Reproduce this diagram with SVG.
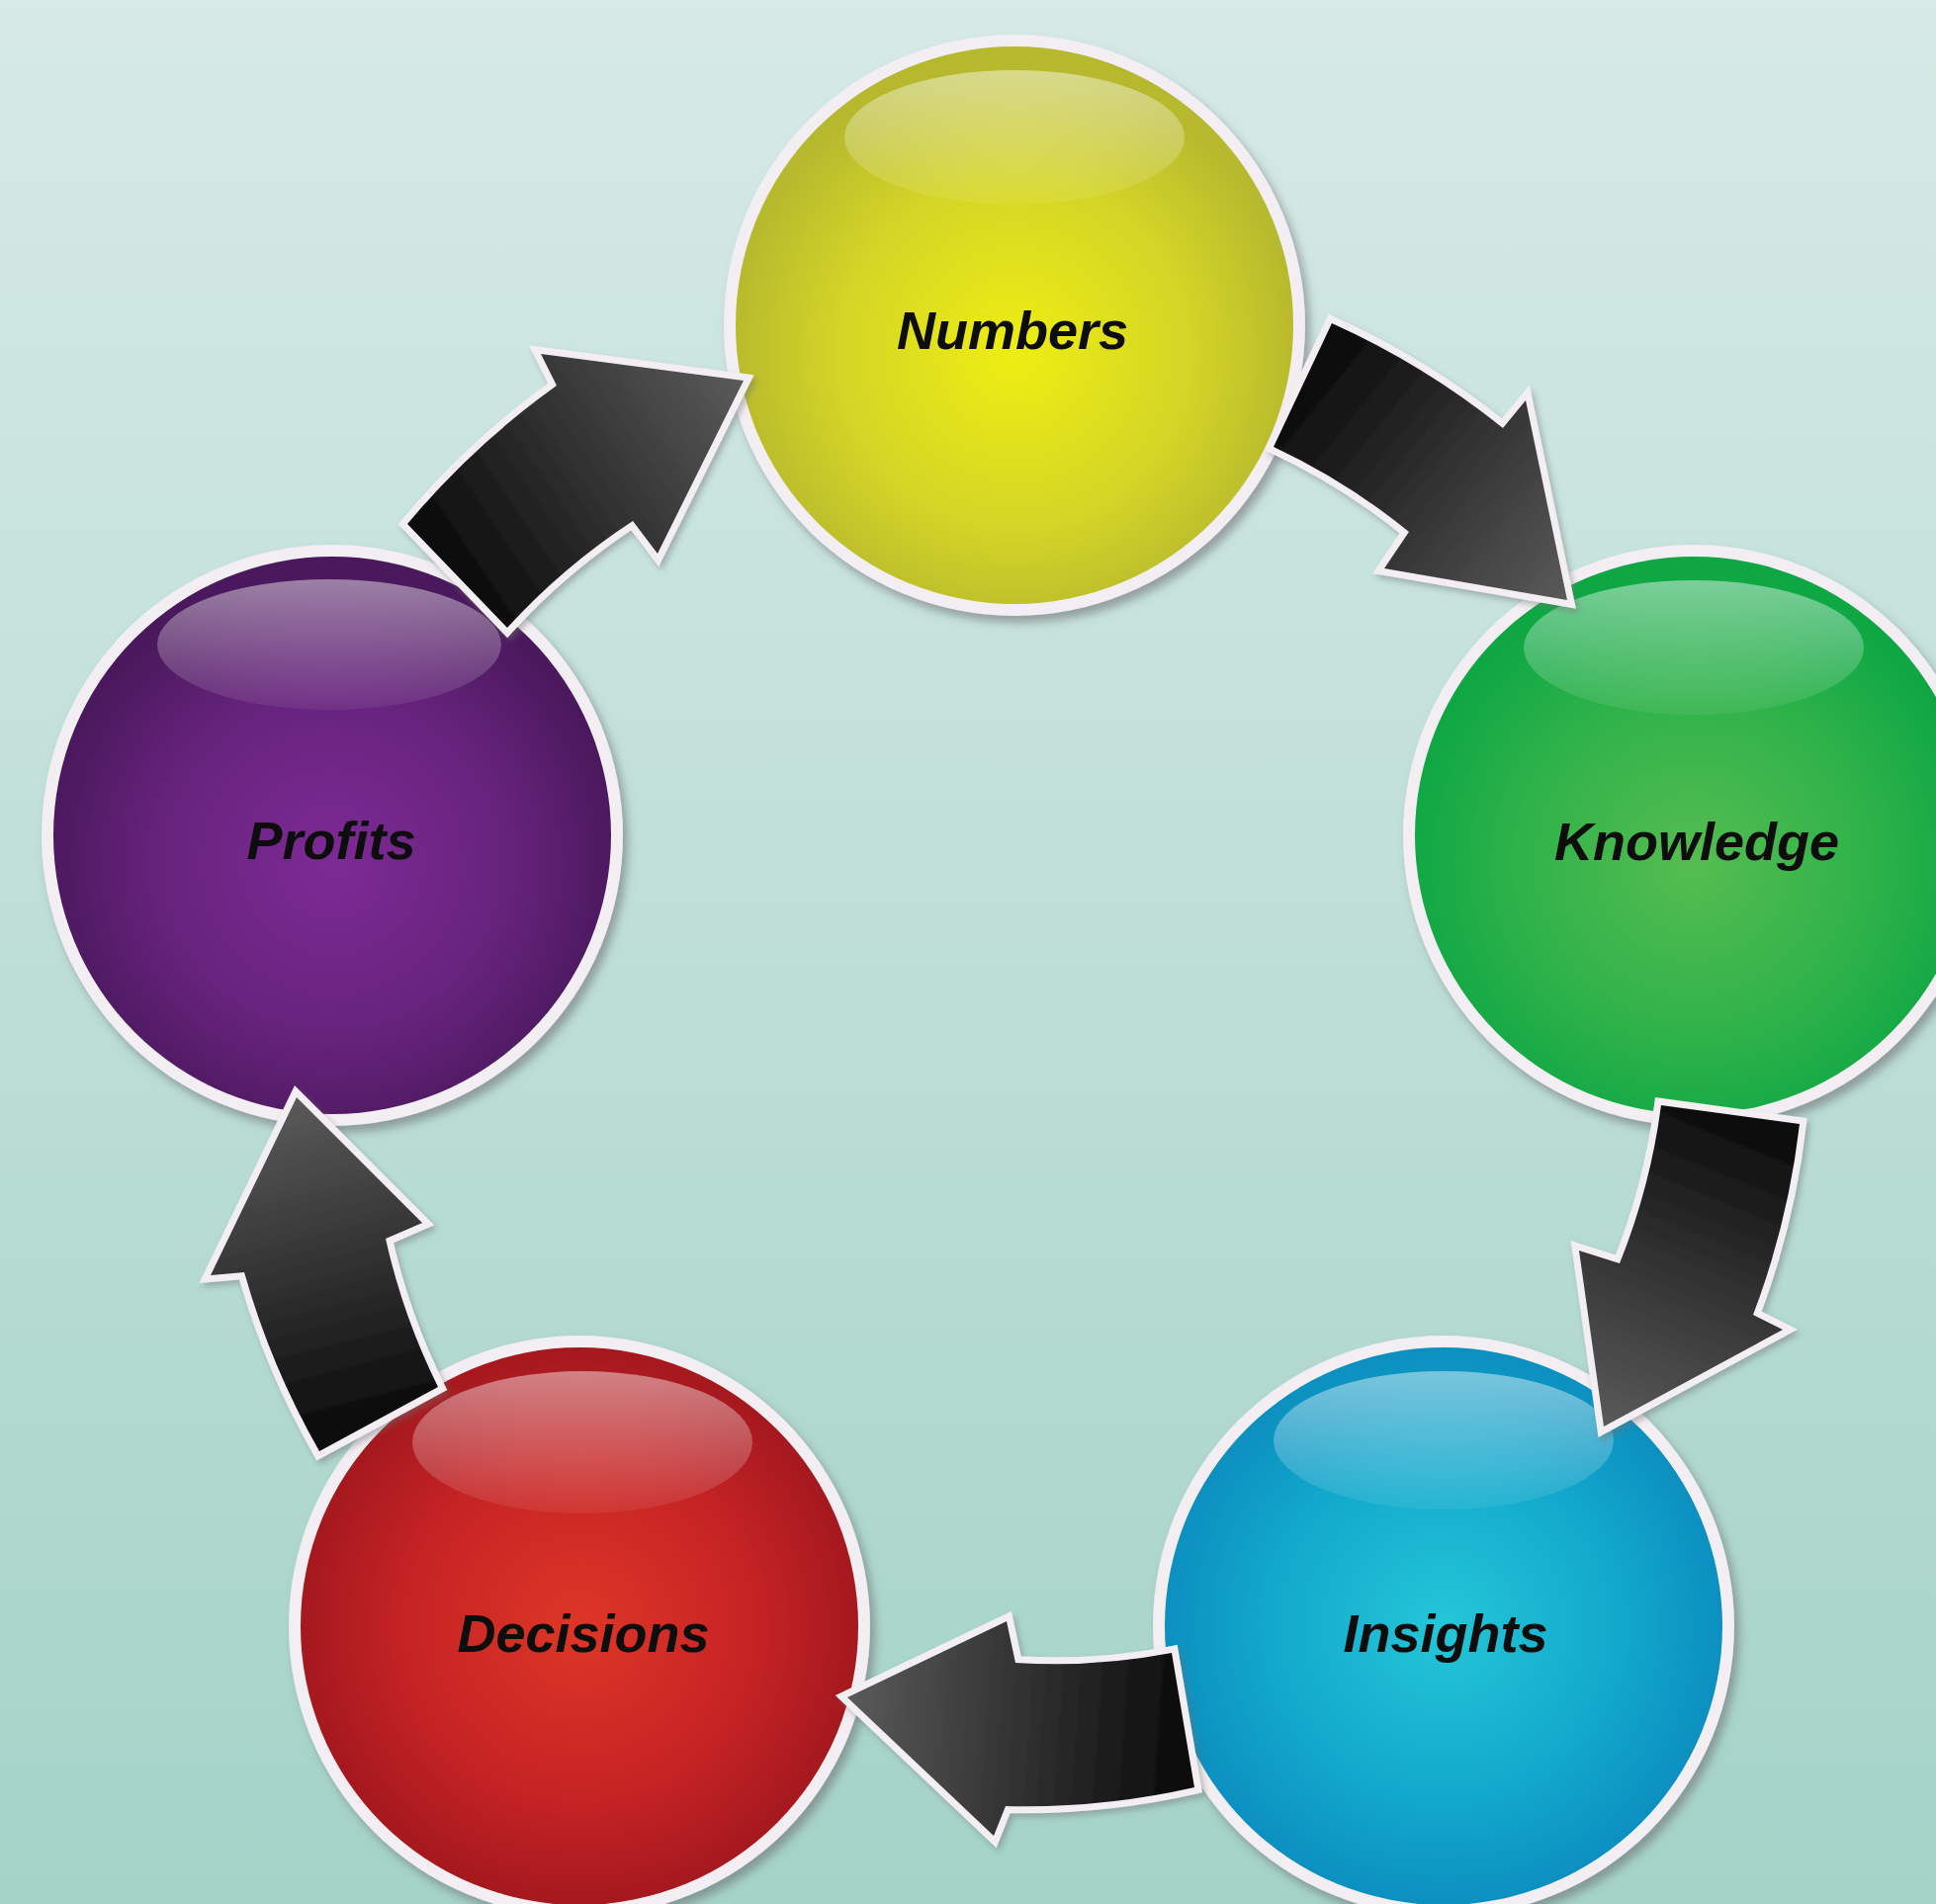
<svg xmlns="http://www.w3.org/2000/svg" width="1958" height="1926" viewBox="0 0 1958 1926">
<defs>
<style>
.rim{fill:#f2eef2;filter:url(#sh)}
.hl{fill:url(#hlg)}
.lbl{font-family:"Liberation Sans",Arial,sans-serif;font-weight:bold;font-style:italic;font-size:54px;fill:#0d0d0d;text-anchor:middle}
.arr{stroke:#f2eef2;stroke-width:14;stroke-linejoin:miter;paint-order:stroke;filter:url(#sh2)}
</style>
<linearGradient id="bg" x1="0" y1="0" x2="0" y2="1">
<stop offset="0" stop-color="#d7eae5"/>
<stop offset="1" stop-color="#a4d3c8"/>
</linearGradient>
<filter id="sh" x="-20%" y="-20%" width="140%" height="140%">
<feDropShadow dx="5" dy="7" stdDeviation="5" flood-color="#6a6a6a" flood-opacity="0.55"/>
</filter>
<filter id="sh2" x="-20%" y="-20%" width="140%" height="140%">
<feDropShadow dx="3" dy="4" stdDeviation="3" flood-color="#707070" flood-opacity="0.45"/>
</filter>
<linearGradient id="hlg" x1="0" y1="0" x2="0" y2="1">
<stop offset="0" stop-color="#ffffff" stop-opacity="0.45"/>
<stop offset="1" stop-color="#ffffff" stop-opacity="0.06"/>
</linearGradient>
<radialGradient id="gY" cx="0.5" cy="0.55" r="0.52">
<stop offset="0" stop-color="#eeee12"/>
<stop offset="0.6" stop-color="#d4d526"/>
<stop offset="1" stop-color="#b6b82e"/>
</radialGradient>
<radialGradient id="gG" cx="0.5" cy="0.55" r="0.52">
<stop offset="0" stop-color="#55bd50"/>
<stop offset="0.6" stop-color="#2fb24a"/>
<stop offset="1" stop-color="#0ea744"/>
</radialGradient>
<radialGradient id="gP" cx="0.5" cy="0.55" r="0.52">
<stop offset="0" stop-color="#7d2a95"/>
<stop offset="0.6" stop-color="#66237c"/>
<stop offset="1" stop-color="#4a185c"/>
</radialGradient>
<radialGradient id="gR" cx="0.5" cy="0.5" r="0.52">
<stop offset="0" stop-color="#de3627"/>
<stop offset="0.6" stop-color="#c52324"/>
<stop offset="1" stop-color="#a1171e"/>
</radialGradient>
<radialGradient id="gB" cx="0.5" cy="0.5" r="0.52">
<stop offset="0" stop-color="#25c6d8"/>
<stop offset="0.6" stop-color="#12a8cc"/>
<stop offset="1" stop-color="#0b8dbe"/>
</radialGradient>
<linearGradient id="a1" gradientUnits="userSpaceOnUse" x1="462" y1="582" x2="752" y2="385">
<stop offset="0" stop-color="#0c0c0c"/><stop offset="1" stop-color="#5a5a5a"/>
</linearGradient>
<linearGradient id="a2" gradientUnits="userSpaceOnUse" x1="1317" y1="390" x2="1585" y2="607">
<stop offset="0" stop-color="#0c0c0c"/><stop offset="1" stop-color="#5a5a5a"/>
</linearGradient>
<linearGradient id="a3" gradientUnits="userSpaceOnUse" x1="1750" y1="1128" x2="1622" y2="1443">
<stop offset="0" stop-color="#0c0c0c"/><stop offset="1" stop-color="#5a5a5a"/>
</linearGradient>
<linearGradient id="a4" gradientUnits="userSpaceOnUse" x1="1196" y1="1740" x2="857" y2="1717">
<stop offset="0" stop-color="#0c0c0c"/><stop offset="1" stop-color="#5a5a5a"/>
</linearGradient>
<linearGradient id="a5" gradientUnits="userSpaceOnUse" x1="383" y1="1435" x2="300" y2="1110">
<stop offset="0" stop-color="#0c0c0c"/><stop offset="1" stop-color="#5a5a5a"/>
</linearGradient>
</defs>
<rect width="1958" height="1926" fill="url(#bg)"/>

<g id="node-numbers">
<circle class="rim" cx="1026" cy="329" r="294"/>
<circle cx="1026" cy="329" r="282" fill="url(#gY)"/>
<ellipse class="hl" cx="1026" cy="139" rx="172" ry="68"/>
<text class="lbl" x="1024" y="353">Numbers</text>
</g>
<g id="node-knowledge">
<circle class="rim" cx="1713" cy="845" r="294"/>
<circle cx="1713" cy="845" r="282" fill="url(#gG)"/>
<ellipse class="hl" cx="1713" cy="655" rx="172" ry="68"/>
<text class="lbl" x="1716" y="870">Knowledge</text>
</g>
<g id="node-insights">
<circle class="rim" cx="1460" cy="1645" r="294"/>
<circle cx="1460" cy="1645" r="282" fill="url(#gB)"/>
<ellipse class="hl" cx="1460" cy="1457" rx="172" ry="70"/>
<text class="lbl" x="1462" y="1671">Insights</text>
</g>
<g id="node-decisions">
<circle class="rim" cx="586" cy="1645" r="294"/>
<circle cx="586" cy="1645" r="282" fill="url(#gR)"/>
<ellipse class="hl" cx="589" cy="1459" rx="172" ry="72"/>
<text class="lbl" x="590" y="1671">Decisions</text>
</g>
<g id="node-profits">
<circle class="rim" cx="336" cy="845" r="294"/>
<circle cx="336" cy="845" r="282" fill="url(#gP)"/>
<ellipse class="hl" cx="333" cy="652" rx="174" ry="66"/>
<text class="lbl" x="335" y="869">Profits</text>
</g>

<g id="connectors">
<path class="arr" fill="url(#a1)" d="M 412,530 A 810 810 0 0 1 563,390 L 547,358 L 752,385 L 665,560 L 640,527 A 665 665 0 0 0 513,635 Z"/>
<path class="arr" fill="url(#a2)" d="M 1347,327 A 800 800 0 0 1 1520,433 L 1543,405 L 1585,607 L 1400,575 L 1425,538 A 660 660 0 0 0 1288,452 Z"/>
<path class="arr" fill="url(#a3)" d="M 1820,1137 A 800 800 0 0 1 1773,1330 L 1803,1345 L 1622,1443 L 1597,1265 L 1638,1278 A 655 655 0 0 0 1680,1118 Z"/>
<path class="arr" fill="url(#a4)" d="M 1208,1808 A 770 770 0 0 1 1017,1827 L 1005,1857 L 857,1717 L 1018,1640 L 1027,1682 A 625 625 0 0 0 1185,1672 Z"/>
<path class="arr" fill="url(#a5)" d="M 323,1468 A 810 810 0 0 1 247,1287 L 213,1290 L 300,1110 L 427,1237 L 390,1253 A 665 665 0 0 0 443,1403 Z"/>
</g>
</svg>
